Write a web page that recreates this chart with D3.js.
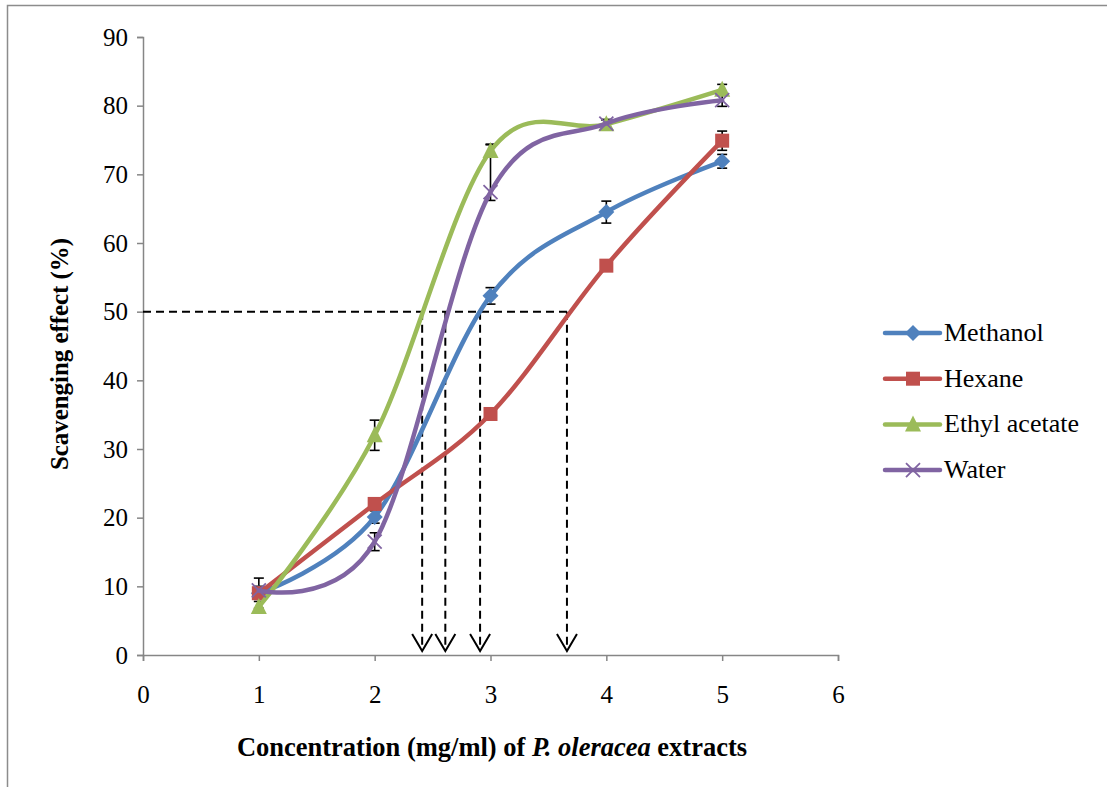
<!DOCTYPE html>
<html>
<head>
<meta charset="utf-8">
<script src="https://cdn.jsdelivr.net/npm/d3@7"></script>
<style>
  body { margin: 0; background: #fff; }
  svg { display: block; }
  svg text { font-family: "Liberation Serif", "Times New Roman", Times, "DejaVu Serif", serif; }
</style>
</head>
<body>
<svg width="1107" height="787"></svg>
<script>
// concentration (mg/ml) and scavenging effect (%)
const concentrations = [1, 2, 3, 4, 5];
const methanol = [9.0, 20.1, 52.3, 64.5, 71.9];
const hexane = [9.0, 22.0, 35.1, 56.7, 74.9];
const ethylAcetate = [7.0, 32.0, 73.4, 77.3, 82.3];
const water = [9.4, 16.5, 67.4, 77.4, 80.8];

// error bars (up / down)
const methanolErrUp = [0.5, 0.9, 1.2, 1.6, 1.0];
const methanolErrDown = [0.5, 0.9, 1.2, 1.6, 1.0];
const hexaneErrUp = [2.2, 0.8, 0.8, 0.8, 1.4];
const hexaneErrDown = [2.2, 0.8, 0.8, 0.8, 1.4];
const ethylErrUp = [0.8, 2.2, 0.9, 0.6, 0.8];
const ethylErrDown = [0.8, 2.2, 0.9, 0.6, 0.8];
const waterErrUp = [0.6, 1.3, 7.0, 0.6, 0.9];
const waterErrDown = [0.6, 1.3, 1.2, 0.6, 0.9];

// IC50 read-offs at 50 %
const ic50Level = 50;
const ic50Values = [2.41, 2.61, 2.91, 3.66];

const xTicks = [0, 1, 2, 3, 4, 5, 6];
const yTicks = [0, 10, 20, 30, 40, 50, 60, 70, 80, 90];

const seriesNames = ["Methanol", "Hexane", "Ethyl acetate", "Water"];
const seriesColors = ["#4F81BD", "#C0504D", "#9BBB59", "#8064A2"];
const seriesMarkers = ["diamond", "square", "triangle", "cross"];

const series = [
  { name: seriesNames[0], values: methanol, up: methanolErrUp, down: methanolErrDown },
  { name: seriesNames[1], values: hexane, up: hexaneErrUp, down: hexaneErrDown },
  { name: seriesNames[2], values: ethylAcetate, up: ethylErrUp, down: ethylErrDown },
  { name: seriesNames[3], values: water, up: waterErrUp, down: waterErrDown }
].map((s, i) => ({
  ...s,
  color: seriesColors[i],
  marker: seriesMarkers[i],
  points: concentrations.map((c, j) => ({ x: c, y: s.values[j], up: s.up[j], down: s.down[j] }))
}));

const serif = "'Liberation Serif', 'Times New Roman', Times, 'DejaVu Serif', serif";
const svg = d3.select("svg");
const axisColor = "#868686";

// outer frame (only the left and top edges are visible in the picture)
svg.append("path")
  .attr("d", "M7.5,787 V5.5 H1107")
  .attr("fill", "none")
  .attr("stroke", "#8c8c8c")
  .attr("stroke-width", 1.5);

const x = d3.scaleLinear().domain([0, 6]).range([143, 838]);
const y = d3.scaleLinear().domain([0, 90]).range([655, 37]);

// y axis
const yAxis = svg.append("g")
  .attr("transform", "translate(143,0)")
  .call(d3.axisLeft(y).tickValues(yTicks).tickFormat(d3.format("d")).tickSize(6).tickPadding(9));
// x axis
const xAxis = svg.append("g")
  .attr("transform", "translate(0,655)")
  .call(d3.axisBottom(x).tickValues(xTicks).tickFormat(d3.format("d")).tickSize(6).tickPadding(24));

[xAxis, yAxis].forEach(a => {
  a.attr("font-family", serif).attr("font-size", 25);
  a.selectAll("path, line").attr("stroke", axisColor).attr("stroke-width", 1.5);
  a.selectAll("text").attr("fill", "#000");
});

// axis titles
svg.append("text")
  .attr("x", 492)
  .attr("y", 756)
  .attr("text-anchor", "middle")
  .attr("font-family", serif)
  .attr("font-size", 26.5)
  .attr("font-weight", "bold")
  .call(t => {
    t.append("tspan").text("Concentration (mg/ml) of ");
    t.append("tspan").attr("font-style", "italic").text("P. oleracea");
    t.append("tspan").text(" extracts");
  });

svg.append("text")
  .attr("transform", "translate(68,354) rotate(-90)")
  .attr("text-anchor", "middle")
  .attr("font-family", serif)
  .attr("font-size", 26)
  .attr("font-weight", "bold")
  .attr("textLength", 232)
  .attr("lengthAdjust", "spacingAndGlyphs")
  .text("Scavenging effect (%)");

// dashed IC50 guide lines
const dash = "8,5";
const guides = svg.append("g")
  .attr("stroke", "#000")
  .attr("stroke-width", 2)
  .attr("fill", "none");

guides.append("line")
  .attr("x1", x(0)).attr("x2", x(d3.max(ic50Values)))
  .attr("y1", y(ic50Level)).attr("y2", y(ic50Level))
  .attr("stroke-dasharray", dash);

ic50Values.forEach(v => {
  const tipY = y(0) - 4;
  guides.append("line")
    .attr("x1", x(v)).attr("x2", x(v))
    .attr("y1", y(ic50Level)).attr("y2", tipY - 2)
    .attr("stroke-dasharray", dash);
  guides.append("path")
    .attr("d", `M${x(v) - 10},${tipY - 17} L${x(v)},${tipY} L${x(v) + 10},${tipY - 17}`);
});

// series
const line = d3.line()
  .x(d => x(d.x))
  .y(d => y(d.y))
  .curve(d3.curveCatmullRom.alpha(0));

const markerSize = 14;
function drawMarker(g, type, color, size) {
  const h = size / 2;
  if (type === "diamond") {
    g.append("path").attr("d", `M0,${-h - 1} L${h + 1},0 L0,${h + 1} L${-h - 1},0 Z`).attr("fill", color);
  } else if (type === "square") {
    g.append("rect").attr("x", -h).attr("y", -h).attr("width", size).attr("height", size).attr("fill", color);
  } else if (type === "triangle") {
    g.append("path").attr("d", `M0,${-h - 2} L${h + 1},${h} L${-h - 1},${h} Z`).attr("fill", color);
  } else if (type === "cross") {
    g.append("path").attr("d", `M${-h},${-h} L${h},${h} M${-h},${h} L${h},${-h}`)
      .attr("stroke", color).attr("stroke-width", 1.8).attr("fill", "none");
  }
}

// error bars
const errG = svg.append("g").attr("stroke", "#000").attr("stroke-width", 1.6);
series.forEach(s => {
  s.points.forEach(p => {
    const cx = x(p.x);
    const top = y(p.y + p.up);
    const bot = y(p.y - p.down);
    errG.append("line").attr("x1", cx).attr("x2", cx).attr("y1", top).attr("y2", bot);
    errG.append("line").attr("x1", cx - 5).attr("x2", cx + 5).attr("y1", top).attr("y2", top);
    errG.append("line").attr("x1", cx - 5).attr("x2", cx + 5).attr("y1", bot).attr("y2", bot);
  });
});

series.forEach(s => {
  const g = svg.append("g");
  g.append("path")
    .datum(s.points)
    .attr("d", line)
    .attr("fill", "none")
    .attr("stroke", s.color)
    .attr("stroke-width", 4.5)
    .attr("stroke-linejoin", "round")
    .attr("stroke-linecap", "round");
  g.selectAll("g.pt")
    .data(s.points)
    .enter().append("g")
    .attr("class", "pt")
    .attr("transform", d => `translate(${x(d.x)},${y(d.y)})`)
    .each(function() { drawMarker(d3.select(this), s.marker, s.color, markerSize); });
});

// legend
const legend = svg.append("g").attr("transform", "translate(885,333)");
series.forEach((s, i) => {
  const row = legend.append("g").attr("transform", `translate(0,${i * 45.7})`);
  row.append("line")
    .attr("x1", 0).attr("x2", 55)
    .attr("stroke", s.color).attr("stroke-width", 4.5)
    .attr("stroke-linecap", "round");
  const m = row.append("g").attr("transform", "translate(28,0)");
  drawMarker(m, s.marker, s.color, markerSize);
  row.append("text")
    .attr("x", 59)
    .attr("y", 8)
    .attr("font-family", serif)
    .attr("font-size", 26)
    .text(s.name);
});
</script>
</body>
</html>
